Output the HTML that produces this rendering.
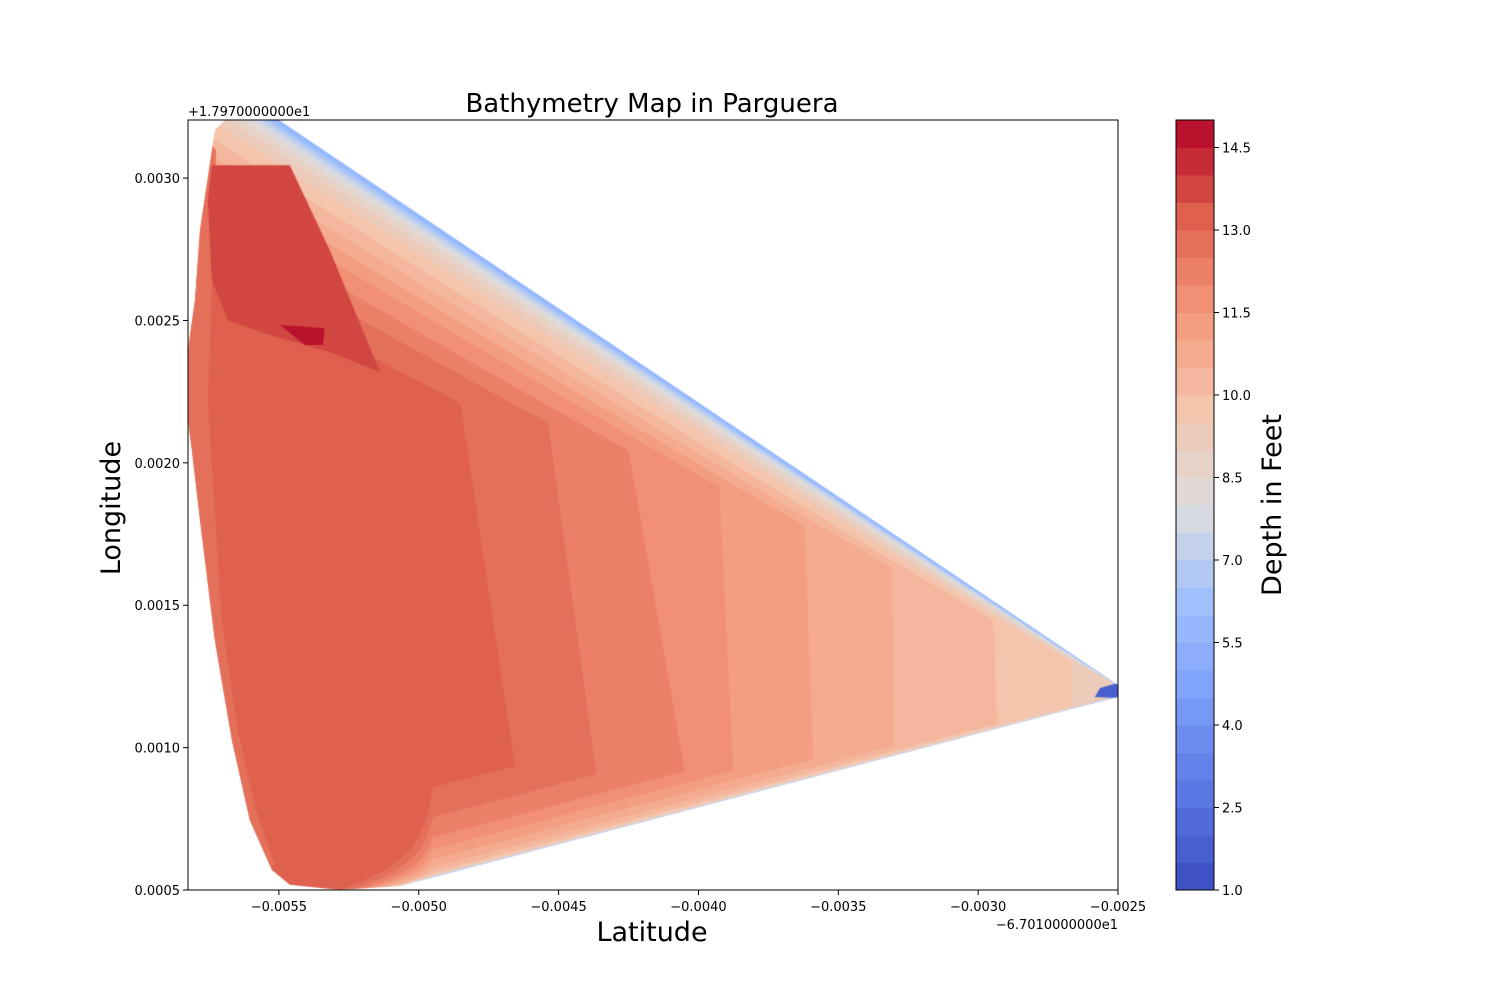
<!DOCTYPE html>
<html><head><meta charset="utf-8">
<style>
body{margin:0;background:#fff;}
#wrap{position:relative;width:1500px;height:1000px;font-family:"Liberation Sans","DejaVu Sans",sans-serif;}
#field{position:absolute;left:188px;top:120px;}
svg{position:absolute;left:0;top:0;}
text{font-family:"DejaVu Sans","Liberation Sans",sans-serif;}
</style></head>
<body>
<div id="wrap">
<canvas id="field" width="930" height="770"></canvas>
<svg id="svg" width="1500" height="1000"></svg>
</div>
<script>
// ---- axis ranges ----
const xmin=-0.005825, xmax=-0.0025, ymin=0.0005, ymax=0.003204;
const xTicks=[-0.0055,-0.0050,-0.0045,-0.0040,-0.0035,-0.0030,-0.0025];
const xTickLabels=["−0.0055","−0.0050","−0.0045","−0.0040","−0.0035","−0.0030","−0.0025"];
const yTicks=[0.0005,0.0010,0.0015,0.0020,0.0025,0.0030];
const yTickLabels=["0.0005","0.0010","0.0015","0.0020","0.0025","0.0030"];
// colorbar levels
const cbMin=1, cbMax=15, cbStep=0.5;
const cbTicks=[1.0,2.5,4.0,5.5,7.0,8.5,10.0,11.5,13.0,14.5];
// survey hull (lat, lon)
const hullLat=[-0.005729,-0.005693,-0.0055,-0.0025,-0.0025,-0.002708,-0.005067,-0.005282,-0.005461,-0.005525,-0.005604,-0.005668,-0.005729,-0.005782,-0.005811,-0.005825,-0.005825,-0.005800,-0.005782];
const hullLon=[0.003168,0.003204,0.003204,0.001220,0.001178,0.001125,0.000514,0.0005,0.000518,0.000570,0.000746,0.001027,0.001378,0.001799,0.002045,0.002150,0.002396,0.002571,0.002817];
// depth stripes (boundary lat at lon 0.002220 and 0.000816) and depth to the right
const stripeLatTop=[-0.004853,-0.004549,-0.004281,-0.003941,-0.003637,-0.003316,-0.002976,-0.002690];
const stripeLatBot=[-0.004638,-0.004352,-0.004031,-0.003870,-0.003584,-0.003298,-0.002922,-0.002654];
const stripeDepth=[12.75,12.25,11.75,11.25,10.75,10.25,9.75,9.25];
const baseDepth=13.25;
// shallow shelf along the north-east shoreline
const upperEdgeLat=[-0.0055,-0.0025], upperEdgeLon=[0.003204,0.001220];
const upperRefLat=-0.005067;
const upperOff=[0,0.000014,0.0000316,0.0000562,0.0000772,0.0001053,0.0001404,0.0001931,0.0002458,0.0002984,0.0003511,0.0004213,0.0004915,0.0005969];
const upperDepth=[5.5,6,7,8,8.5,9,9.5,10,10.5,11,11.5,12,12.5,13];
// shallow shelf along the south-east shoreline
const lowerEdgeLat=[-0.0025,-0.005067], lowerEdgeLon=[0.001178,0.000514];
const lowerOff=[0,0.000004,0.000018,0.000035,0.000063,0.000098,0.00014,0.000211,0.000316];
const lowerDepth=[5,9,10,10.5,11,11.5,12,12.5,13];
const apexLat=-0.0025;
// west margin shallower strip
const westLat=[-0.0059,-0.005725,-0.005740,-0.005754,-0.005704,-0.005647,-0.005582,-0.005514,-0.0059];
const westLon=[0.0033,0.003098,0.002571,0.002220,0.001448,0.001062,0.000781,0.000588,0.0005];
const westDepth=12.75;
// deep patches
const patch1Lat=[-0.005740,-0.005461,-0.005318,-0.005139,-0.005318,-0.005532,-0.005682,-0.005740,-0.005754];
const patch1Lon=[0.003045,0.003045,0.002747,0.002319,0.002389,0.002449,0.002501,0.002642,0.002923];
const patch1Depth=13.75;
const patch2Lat=[-0.005496,-0.005336,-0.005343,-0.005407];
const patch2Lon=[0.002484,0.002473,0.002414,0.002414];
const patch2Depth=14.75;
// shallow point at the east apex
const patch3Lat=[-0.002564,-0.0025,-0.0025,-0.002583];
const patch3Lon=[0.001209,0.001227,0.001174,0.001178];
const patch3Depth=1.75;

const PX=188,PY=120,PW=930,PH=770;
function sx(v){return PX+(v-xmin)/(xmax-xmin)*PW;}
function sy(v){return PY+PH-(v-ymin)/(ymax-ymin)*PH;}

const cmapAnch=[[0,[59,76,192]],[0.125,[90,120,228]],[0.25,[123,159,249]],[0.375,[160,192,253]],[0.5,[221,221,221]],[0.625,[244,196,173]],[0.75,[244,152,122]],[0.875,[222,96,77]],[1,[180,4,38]]];
function cmap(t){t=Math.max(0,Math.min(1,t));for(let i=1;i<cmapAnch.length;i++){if(t<=cmapAnch[i][0]){const a=cmapAnch[i-1],b=cmapAnch[i];const f=(t-a[0])/(b[0]-a[0]);return a[1].map((c,k)=>Math.round(c+(b[1][k]-c)*f));}}return cmapAnch[8][1];}
const nBands=Math.round((cbMax-cbMin)/cbStep);
function depthColor(d){let i=Math.floor((d-cbMin)/cbStep);i=Math.max(0,Math.min(nBands-1,i));return cmap((i+0.5)/nBands);}
function rgb(c){return 'rgb('+c[0]+','+c[1]+','+c[2]+')';}
function interp(xs,ys,v){const n=xs.length;
  if(v<=xs[0])return ys[0]; if(v>=xs[n-1])return ys[n-1];
  for(let i=1;i<n;i++){if(v<=xs[i]){const f=(v-xs[i-1])/(xs[i]-xs[i-1]);return ys[i-1]+(ys[i]-ys[i-1])*f;}}return ys[n-1];}
function lineAt(la,lo,lat){return lo[0]+(lo[1]-lo[0])*(lat-la[0])/(la[1]-la[0]);}

// ---- field ----
const cv=document.getElementById('field');const ctx=cv.getContext('2d');
const img=ctx.createImageData(PW,PH);
for(let cy=0;cy<PH;cy++){const lon=ymax-(cy+0.5)/PH*(ymax-ymin);
  for(let cx=0;cx<PW;cx++){const lat=xmin+(cx+0.5)/PW*(xmax-xmin);
    let d=baseDepth;
    for(let k=0;k<stripeDepth.length;k++){const f=(lon-0.002220)/(0.000816-0.002220);const bl=stripeLatTop[k]+(stripeLatBot[k]-stripeLatTop[k])*f;if(lat>bl)d=stripeDepth[k];}
    const r=Math.max(0.02,(apexLat-lat)/(apexLat-upperRefLat));
    const s=Math.pow(r,0.6);
    const uo=(lineAt(upperEdgeLat,upperEdgeLon,lat)-lon)/s;
    d=Math.min(d,interp(upperOff,upperDepth,uo));
    const taper=1+Math.max(0,(-0.00495-lat))*20000;
    const lo=(lon-lineAt(lowerEdgeLat,lowerEdgeLon,lat))*taper;
    d=Math.min(d,interp(lowerOff,lowerDepth,lo));
    const c=depthColor(d);const o=(cy*PW+cx)*4;
    img.data[o]=c[0];img.data[o+1]=c[1];img.data[o+2]=c[2];img.data[o+3]=255;}}
ctx.putImageData(img,0,0);
function polyPath(la,lo){const p=new Path2D();la.forEach((v,i)=>{const x=sx(v)-PX,y=sy(lo[i])-PY;i?p.lineTo(x,y):p.moveTo(x,y);});p.closePath();return p;}
const hull=polyPath(hullLat,hullLon);
ctx.globalCompositeOperation='destination-in';ctx.fill(hull);
ctx.globalCompositeOperation='source-over';
ctx.save();ctx.clip(hull);
ctx.fillStyle=rgb(depthColor(westDepth));ctx.fill(polyPath(westLat,westLon));
ctx.fillStyle=rgb(depthColor(patch1Depth));ctx.fill(polyPath(patch1Lat,patch1Lon));
ctx.fillStyle=rgb(depthColor(patch2Depth));ctx.fill(polyPath(patch2Lat,patch2Lon));
ctx.fillStyle=rgb(depthColor(patch3Depth));ctx.fill(polyPath(patch3Lat,patch3Lon));
ctx.restore();

// ---- axes ----
const NS='http://www.w3.org/2000/svg';const svg=document.getElementById('svg');
function mk(tag,attrs,txt){const e=document.createElementNS(NS,tag);for(const k in attrs)e.setAttribute(k,attrs[k]);if(txt!==undefined)e.textContent=txt;svg.appendChild(e);return e;}
let e;
e=mk('rect',{x:PX,y:PY,width:PW,height:PH,fill:'none',stroke:'#000','stroke-width':1});


xTicks.forEach((v,i)=>{const x=sx(v);
  e=mk('line',{x1:x,x2:x,y1:PY+PH,y2:PY+PH+5,stroke:'#000'});
  
  
  e=mk('text',{x:x,y:PY+PH+21,'font-size':13,'text-anchor':'middle'},xTickLabels[i]);
  
  });
yTicks.forEach((v,i)=>{const y=sy(v);
  e=mk('line',{x1:PX-5,x2:PX,y1:y,y2:y,stroke:'#000'});
  
  
  e=mk('text',{x:PX-8,y:y+5,'font-size':13,'text-anchor':'end'},yTickLabels[i]);
  
  });
e=mk('text',{x:1118,y:929,'font-size':13,'text-anchor':'end'},'−6.7010000000e1');


e=mk('text',{x:188,y:116,'font-size':13},'+1.7970000000e1');


e=mk('text',{x:652,y:112,'font-size':26,'text-anchor':'middle'},'Bathymetry Map in Parguera');


e=mk('text',{x:652,y:941,'font-size':27,'text-anchor':'middle'},'Latitude');


e=mk('text',{x:120,y:508,'font-size':27,'text-anchor':'middle',transform:'rotate(-90 120 508)'},'Longitude');



// ---- colorbar ----
const CX=1176,CW=38,CT=120,CB=890;
function cy(v){return CB-(v-cbMin)/(cbMax-cbMin)*(CB-CT);}
for(let i=0;i<nBands;i++){const lo=cbMin+i*cbStep,hi=lo+cbStep;
  e=mk('rect',{x:CX,y:cy(hi),width:CW,height:cy(lo)-cy(hi)+0.5,fill:rgb(cmap((i+0.5)/nBands))});
  
  }
e=mk('rect',{x:CX,y:CT,width:CW,height:CB-CT,fill:'none',stroke:'#000'});


cbTicks.forEach(v=>{const y=cy(v);
  e=mk('line',{x1:CX+CW,x2:CX+CW+5,y1:y,y2:y,stroke:'#000'});
  
  
  e=mk('text',{x:CX+CW+8,y:y+5,'font-size':13},v.toFixed(1));
  
  });
e=mk('text',{x:1281,y:505,'font-size':27,'text-anchor':'middle',transform:'rotate(-90 1281 505)'},'Depth in Feet');


</script>
</body></html>
